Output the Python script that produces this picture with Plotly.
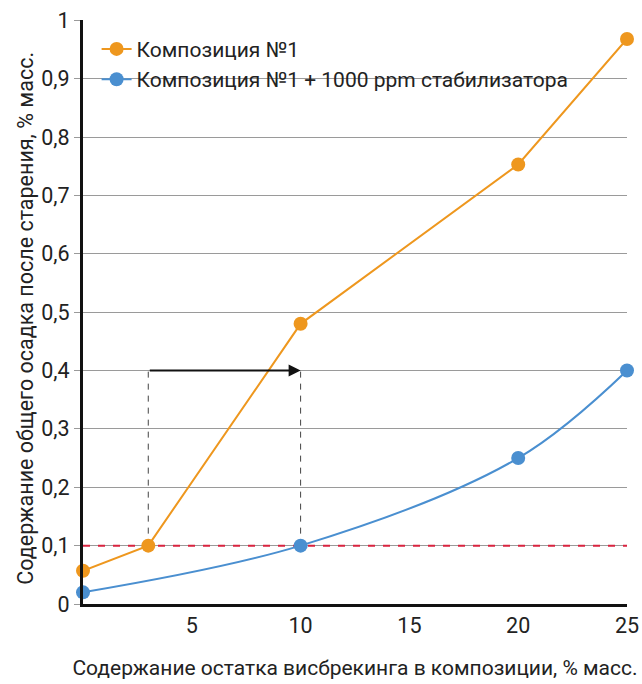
import plotly.graph_objects as go

x_orange = [0, 3, 10, 20, 25]
y_orange = [0.057, 0.1, 0.48, 0.753, 0.968]
x_blue = [0, 10, 20, 25]
y_blue = [0.02, 0.1, 0.25, 0.4]
name_orange = "Композиция №1"
name_blue = "Композиция №1 + 1000 ppm стабилизатора"
y_ticks = [0, 0.1, 0.2, 0.3, 0.4, 0.5, 0.6, 0.7, 0.8, 0.9, 1]
y_ticktext = ["0", "0,1", "0,2", "0,3", "0,4", "0,5", "0,6", "0,7", "0,8", "0,9", "1"]
x_ticks = [5, 10, 15, 20, 25]
limit_y = 0.1
arrow_y = 0.4
arrow_x = [3, 10]
x_title = "Содержание остатка висбрекинга в композиции, % масс."
y_title = "Содержание общего осадка после старения, % масс."

FONT = "Roboto, sans-serif"
ORANGE = "#EE971E"
BLUE = "#4A8FD0"
FS = 21.5

fig = go.Figure()

fig.add_trace(go.Scatter(x=[0, 25], y=[limit_y, limit_y], mode="lines",
                         line=dict(color="#D8233F", width=2, dash="7px,8px"),
                         showlegend=False, hoverinfo="skip"))
for xv in arrow_x:
    fig.add_trace(go.Scatter(x=[xv, xv], y=[limit_y, arrow_y], mode="lines",
                             line=dict(color="#444444", width=1, dash="6px,6px"),
                             showlegend=False, hoverinfo="skip"))

fig.add_trace(go.Scatter(x=x_orange, y=y_orange, mode="lines+markers", name=name_orange,
                         line=dict(color=ORANGE, width=2),
                         marker=dict(color=ORANGE, size=14), cliponaxis=False))
fig.add_trace(go.Scatter(x=x_blue, y=y_blue, mode="lines+markers", name=name_blue,
                         line=dict(color=BLUE, width=2, shape="spline", smoothing=1.0),
                         marker=dict(color=BLUE, size=14), cliponaxis=False))

fig.add_annotation(x=arrow_x[1], y=arrow_y, ax=arrow_x[0], ay=arrow_y,
                   xref="x", yref="y", axref="x", ayref="y", text="",
                   showarrow=True, arrowhead=2, arrowsize=1.2, arrowwidth=2,
                   arrowcolor="#111111")

# y-axis title placed as a rotated annotation
fig.add_annotation(x=-0.105, y=0.49, xref="paper", yref="paper", text=y_title,
                   textangle=-90, showarrow=False, xanchor="center", yanchor="middle",
                   font=dict(size=FS, family=FONT, color="#222222"))

fig.update_layout(
    width=642, height=684,
    margin=dict(l=83, r=15, t=20, b=80),
    paper_bgcolor="white", plot_bgcolor="white",
    font=dict(family=FONT, color="#222222", size=FS),
    separators=", ",
    legend=dict(x=0.025, y=0.985, xanchor="left", yanchor="top",
                bgcolor="rgba(255,255,255,0)", font=dict(size=21),
                itemwidth=30, tracegroupgap=0),
    xaxis=dict(range=[0, 25], tickvals=x_ticks, showgrid=False, zeroline=False,
               showline=True, linecolor="#111111", linewidth=3, ticks="",
               tickfont=dict(size=FS), automargin=False,
               title=dict(text=x_title, font=dict(size=21), standoff=24)),
    yaxis=dict(range=[0, 1.0005], tickvals=y_ticks, ticktext=y_ticktext,
               showgrid=True, gridcolor="#9a9a9a", gridwidth=1, zeroline=False,
               showline=True, linecolor="#111111", linewidth=3,
               ticks="outside", ticklen=6, tickcolor="#9a9a9a", tickwidth=1,
               tickfont=dict(size=FS), automargin=False),
)

fig.write_html("out.html", config={"displayModeBar": False},
               post_script="document.body.style.margin='0';document.body.style.overflow='hidden';")
